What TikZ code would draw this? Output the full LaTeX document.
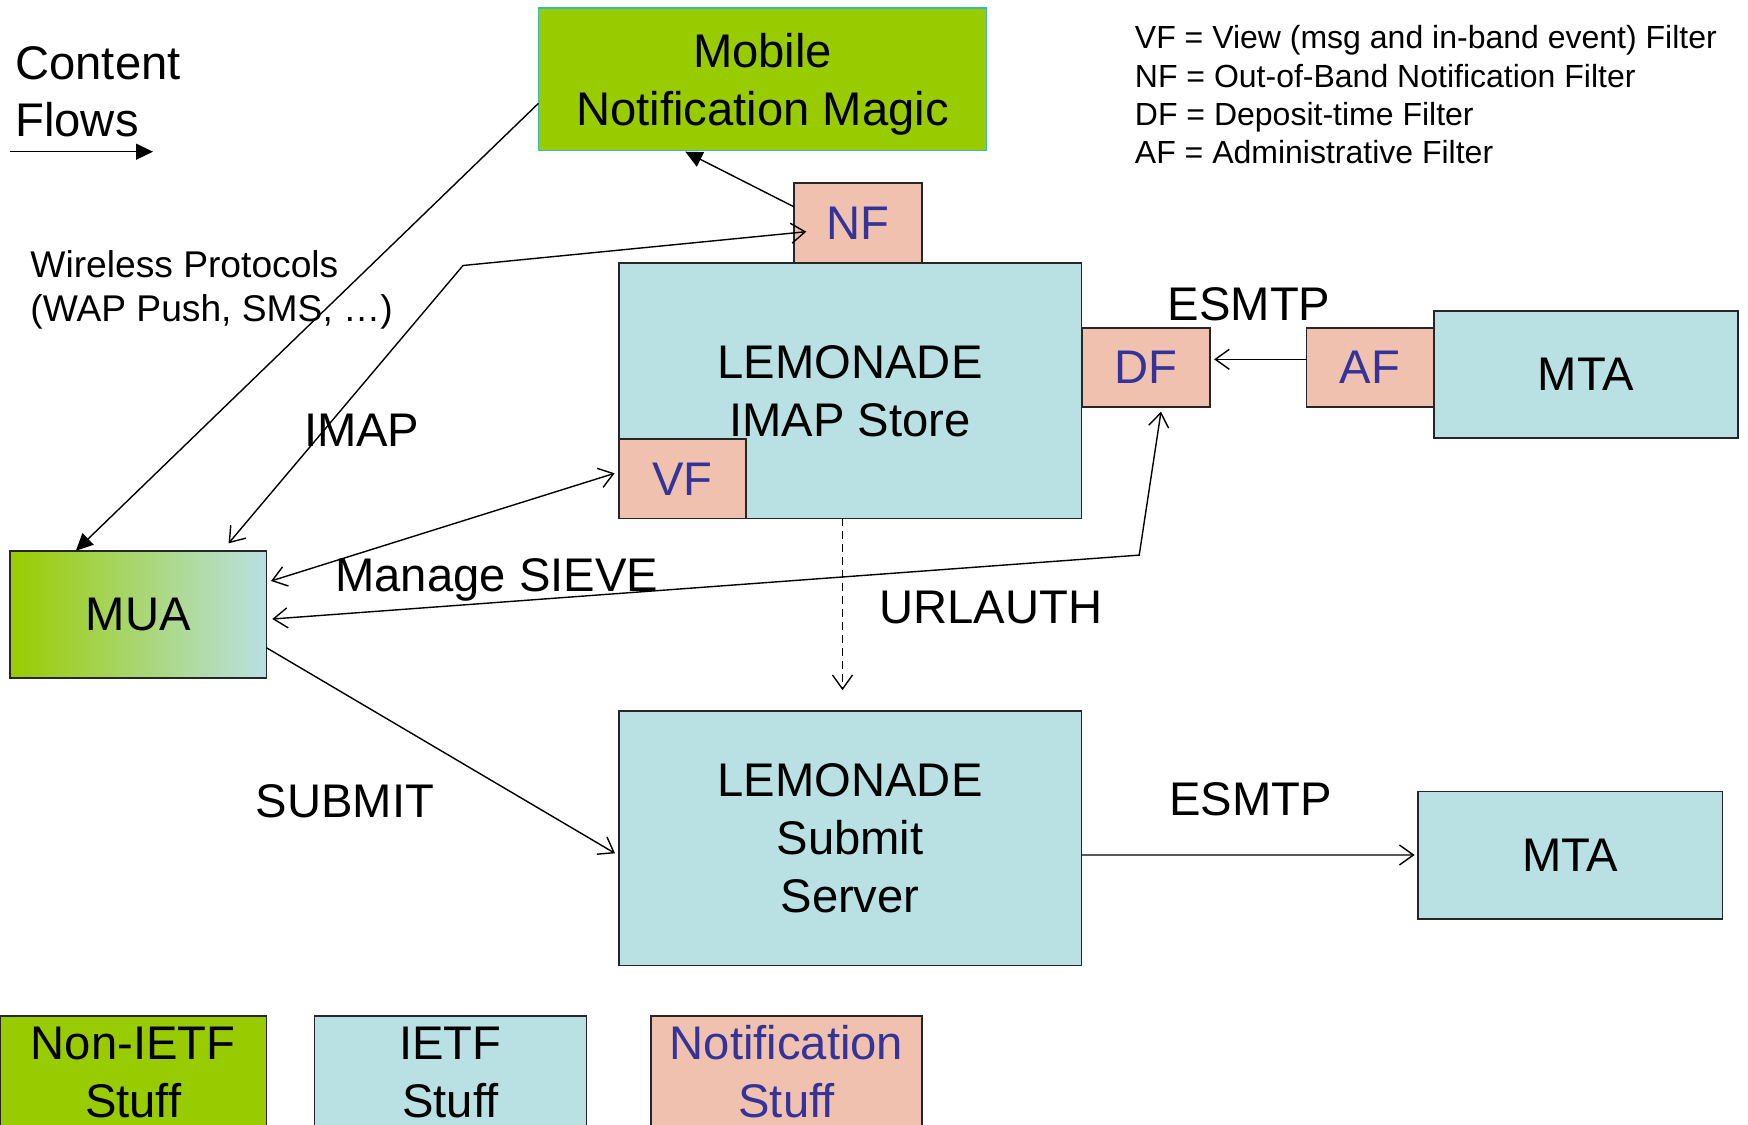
\documentclass[tikz,border=0pt]{standalone}
\usepackage{fontspec}
\setmainfont{Liberation Sans}
\usetikzlibrary{arrows.meta,calc}
\definecolor{ngreen}{HTML}{99CC00}
\definecolor{ietf}{HTML}{B9E0E3}
\definecolor{notif}{HTML}{F0C1AE}
\definecolor{ntext}{HTML}{333399}
\definecolor{mobborder}{HTML}{33BBBB}
\begin{document}
\begin{tikzpicture}[x=0.5pt,y=-0.5pt,
  big/.style={font=\fontsize{23.6}{29}\selectfont},
  box/.style={draw=black!85, line width=0.9pt, inner sep=0pt, outer sep=0pt, anchor=north west, align=center, big},
  ietfbox/.style={box, fill=ietf},
  notifbox/.style={box, fill=notif, text=ntext},
  conn/.style={line width=0.7pt},
  barbend/.style={-{Straight Barb[length=7pt,width=10pt]}},
  barbboth/.style={{Straight Barb[length=7pt,width=10pt]}-{Straight Barb[length=7pt,width=10pt]}},
  solidend/.style={-{Triangle[length=8.5pt,width=8pt]}},
  lbl/.style={big, anchor=base west, inner sep=0pt}
]
\useasboundingbox (0,0) rectangle (1748,1124);
\clip (0,0) rectangle (1748,1124);

% boxes
\node[box, fill=ngreen, draw=mobborder, line width=0.8pt, minimum width=224.05pt, minimum height=71.35pt, text depth=-0.6pt] (mob) at (538.5,7.8) {Mobile\\Notification Magic};
\node[notifbox, minimum width=64.1pt, minimum height=40.15pt] (nf) at (793.7,182.8) {NF};
\node[ietfbox, minimum width=231.35pt, minimum height=127.65pt] (imap) at (618.7,263.1) {LEMONADE\\IMAP Store};
\node[notifbox, minimum width=63.55pt, minimum height=39.6pt] (vf) at (618.7,439.2) {VF};
\node[notifbox, minimum width=63.55pt, minimum height=39.55pt] (df) at (1082.5,327.8) {DF};
\node[notifbox, minimum width=63.55pt, minimum height=39.55pt] (af) at (1306.5,327.8) {AF};
\node[ietfbox, minimum width=152.2pt, minimum height=63.5pt] (mta1) at (1433.6,311) {MTA};
\node[box, left color=ngreen, right color=ietf, minimum width=128.2pt, minimum height=63.55pt] (mua) at (10,550.7) {MUA};
\node[ietfbox, minimum width=231.35pt, minimum height=127.1pt, text depth=-5pt] (sub) at (618.7,711.2) {LEMONADE\\Submit\\Server};
\node[ietfbox, minimum width=152.25pt, minimum height=63.55pt] (mta2) at (1418,791.5) {MTA};

% legend boxes
\node[box, fill=ngreen, minimum width=133.2pt, minimum height=56.2pt, text depth=-2pt] (lg1) at (0,1015.6) {Non-IETF\\Stuff};
\node[ietfbox, minimum width=136pt, minimum height=56.2pt, text depth=-2pt] (lg2) at (314.4,1015.6) {IETF\\Stuff};
\node[notifbox, minimum width=135.5pt, minimum height=56.2pt, text depth=-2pt] (lg3) at (651,1015.6) {Notification\\Stuff};

% free texts
\node[font=\fontsize{23.6}{28.35}\selectfont, anchor=north west, align=left, inner sep=0pt] (cf) at (15,46.2) {Content\\Flows};
\node[font=\fontsize{18.6}{22.3}\selectfont, anchor=north west, align=left, inner sep=0pt] (wl) at (30,250) {Wireless Protocols\\(WAP Push, SMS, …)};
\node[font=\fontsize{16}{19.15}\selectfont, anchor=north west, align=left, inner sep=0pt] (key) at (1134.5,25.4) {VF = View (msg and in-band event) Filter\\NF = Out-of-Band Notification Filter\\DF = Deposit-time Filter\\AF = Administrative Filter};
\node[lbl] (imaplbl) at (303.6,446.7) {IMAP};
\node[lbl] (sievelbl) at (335,591.7) {Manage SIEVE};
\node[lbl] (urllbl) at (879,623.3) {URLAUTH};
\node[lbl] (sublbl) at (255.3,817) {SUBMIT};
\node[lbl] (esmtpa) at (1167.3,320) {ESMTP};
\node[lbl] (esmtpb) at (1168.7,815) {ESMTP};

% content flows arrow
\coordinate (cfa) at (9.6,151.7);
\coordinate (cfb) at (153,151.7);
\draw[conn, solidend] (cfa) -- (cfb);

% connectors
\draw[conn, solidend] ($(mob.north west)+(0,95.5)$) -- ($(mua.north west)+(65.9,0)$);
\draw[conn, solidend] ($(nf.north west)+(0,23.9)$) -- ($(mob.south west)+(146.8,1.2)$);
\coordinate (imapbend) at (463,265.5);
\draw[conn, barbboth] ($(mua.north west)+(218.6,-7.4)$) -- (imapbend) -- ($(nf.north west)+(12.6,48.9)$);
\draw[conn, barbboth] ($(mua.north west)+(261,30.3)$) -- ($(vf.north west)+(-4.1,34.1)$);
\coordinate (dfbend) at (1139.2,555.1);
\draw[conn, barbboth] ($(mua.north west)+(262.3,68.3)$) -- (dfbend) -- ($(df.south west)+(78.5,4.7)$);
\draw[conn, barbend] ($(af.north west)+(0,31.5)$) -- ($(df.north east)+(4.5,31.5)$);
\draw[conn, barbend, dash pattern=on 4pt off 2.5pt] ($(imap.south west)+(223.8,0)$) -- ($(sub.north west)+(223.8,-21)$);
\draw[conn, barbend] ($(mua.north west)+(256.4,97)$) -- ($(sub.north west)+(-3.7,142.1)$);
\draw[conn, barbend] ($(sub.north east)+(0,143.8)$) -- ($(mta2.north west)+(-3.4,63.5)$);
\end{tikzpicture}
\end{document}
